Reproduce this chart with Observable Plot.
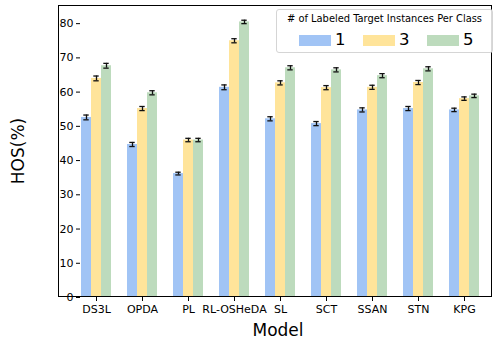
<!DOCTYPE html>
<html>
<head>
<meta charset="utf-8">
<script src="https://cdn.jsdelivr.net/npm/d3@7"></script>
<script src="https://cdn.jsdelivr.net/npm/@observablehq/plot@0.6"></script>
<style>
  html, body { margin: 0; padding: 0; background: #fff; }
  #wrap { position: relative; width: 496px; height: 339px; font-family: "DejaVu Sans", sans-serif; }
  #frame { position: absolute; left: 58px; top: 5px; width: 434px; height: 292px; border: 1.2px solid #000; box-sizing: border-box; pointer-events: none; }
  .lbl { position: absolute; font-size: 17px; color: #000; white-space: nowrap; }
  #ylab { left: 18px; top: 151px; transform: translate(-50%, -50%) rotate(-90deg); }
  #xlab { left: 278px; top: 330px; transform: translate(-50%, -50%); }
  #legend { position: absolute; left: 276px; top: 9px; width: 217px; height: 44px; box-sizing: border-box; border: 1px solid #d5d5d5; border-radius: 3px; background: rgba(255,255,255,0.85); }
  #legend .title { position: absolute; left: 0; right: 0; top: 3px; text-align: center; font-size: 9.9px; }
  #legend .item { position: absolute; top: 22px; display: flex; align-items: center; }
  #legend .sw { width: 32px; height: 11px; margin-right: 4px; }
  #legend .txt { font-size: 16.5px; line-height: 16px; }
</style>
</head>
<body>
<div id="wrap">
  <div id="chart"></div>
  <div id="frame"></div>
  <div class="lbl" id="ylab">HOS(%)</div>
  <div class="lbl" id="xlab">Model</div>
  <div id="legend"></div>
</div>
<script>
const models = ["DS3L", "OPDA", "PL", "RL-OSHeDA", "SL", "SCT", "SSAN", "STN", "KPG"];
const counts = [1, 3, 5];
const hos1 = [52.6, 44.7, 36.2, 61.4, 52.2, 50.8, 54.8, 55.2, 54.8];
const hos3 = [64.0, 55.2, 46.0, 75.0, 62.7, 61.3, 61.4, 62.8, 58.1];
const hos5 = [67.7, 59.8, 46.0, 80.5, 67.1, 66.5, 64.8, 66.8, 58.9];
const err1 = [0.7, 0.6, 0.4, 0.7, 0.6, 0.6, 0.6, 0.6, 0.5];
const err3 = [0.7, 0.6, 0.5, 0.6, 0.6, 0.6, 0.6, 0.6, 0.5];
const err5 = [0.7, 0.6, 0.5, 0.5, 0.6, 0.6, 0.6, 0.6, 0.5];
const colors = ["#a1c4f5", "#ffe49a", "#bddbbd"];
const legendTitle = "# of Labeled Target Instances Per Class";
const yTicks = [0, 10, 20, 30, 40, 50, 60, 70, 80];

const series = [hos1, hos3, hos5];
const errs = [err1, err3, err5];
const data = [];
models.forEach((m, i) => {
  counts.forEach((k, j) => {
    data.push({model: m, k: k, v: series[j][i], e: errs[j][i]});
  });
});

const chart = Plot.plot({
  width: 496,
  height: 339,
  marginLeft: 58,
  marginRight: 4,
  marginTop: 5,
  marginBottom: 42,
  style: {fontFamily: "DejaVu Sans, sans-serif", fontSize: "11px", color: "#000", background: "#fff"},
  fx: {domain: models, paddingInner: 0.306, paddingOuter: 0.36, align: 0.636, label: null, tickSize: 4, tickPadding: 4},
  x: {domain: counts, padding: 0, axis: null},
  y: {domain: [0, 85.3], ticks: yTicks, tickSize: 4, tickPadding: 3, label: null, grid: false},
  color: {domain: counts, range: colors},
  marks: [
    Plot.barY(data, {fx: "model", x: "k", y: "v", fill: "k"}),
    Plot.ruleX(data, {fx: "model", x: "k", y1: d => d.v - d.e, y2: d => d.v + d.e, stroke: "#111", strokeWidth: 1.3}),
    Plot.tickY(data, {fx: "model", x: "k", y: d => d.v - d.e, stroke: "#111", strokeWidth: 1.3, insetLeft: 2.3, insetRight: 2.3}),
    Plot.tickY(data, {fx: "model", x: "k", y: d => d.v + d.e, stroke: "#111", strokeWidth: 1.3, insetLeft: 2.3, insetRight: 2.3})
  ]
});
document.getElementById("chart").appendChild(chart);

const leg = document.getElementById("legend");
const t = document.createElement("div");
t.className = "title";
t.textContent = legendTitle;
leg.appendChild(t);
const lefts = [22, 86, 150];
counts.forEach((k, j) => {
  const it = document.createElement("div");
  it.className = "item";
  it.style.left = lefts[j] + "px";
  const sw = document.createElement("div");
  sw.className = "sw";
  sw.style.background = colors[j];
  const tx = document.createElement("span");
  tx.className = "txt";
  tx.textContent = String(k);
  it.appendChild(sw);
  it.appendChild(tx);
  leg.appendChild(it);
});
</script>
</body>
</html>
